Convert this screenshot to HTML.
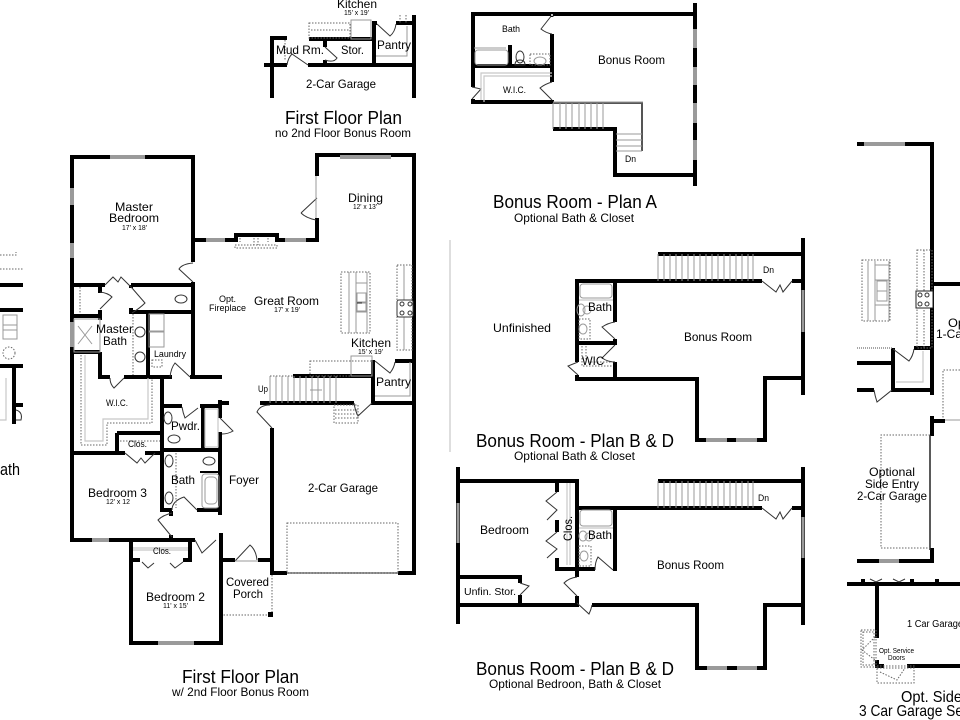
<!DOCTYPE html>
<html><head><meta charset="utf-8"><style>
html,body{margin:0;padding:0;background:#fff;width:960px;height:720px;overflow:hidden}
svg{display:block;filter:blur(0.3px)}
text{font-family:"Liberation Sans",sans-serif;fill:#000}
.w{fill:none;stroke:#000;stroke-width:4;stroke-linecap:butt;stroke-linejoin:miter}
.g{fill:none;stroke:#9a9a9a;stroke-width:4}
.d{fill:none;stroke:#333;stroke-width:1}
.l{fill:none;stroke:#999;stroke-width:1}
.o{fill:none;stroke:#666;stroke-width:1;stroke-dasharray:1.5 1.5}
.lg{fill:none;stroke:#c8c8c8;stroke-width:1.2}
</style></head><body>
<svg width="960" height="720" viewBox="0 0 960 720" xmlns="http://www.w3.org/2000/svg">

<!-- LEFT SLIVER -->
<path class="w" d="M0 285H23M0 310H23M0 366H23M14 366V424M14 405H23"/>
<path class="o" d="M0 255H16V252M0 269H23"/>
<rect x="3" y="315" width="14" height="15" class="l"/><rect x="3" y="325" width="14" height="14" class="l"/>
<circle cx="9" cy="353" r="6" class="o"/>
<path class="lg" d="M6 378V420H0"/>
<path class="d" d="M16 410Q23 412 21 420H16"/>

<!-- MAIN PLAN WALLS -->
<path class="w" d="M72 155V542M70 157H195M193 157V262M193 282V377M193 240H236V235H277V240H319M317 240V218M317 176V155H416M414 155V575"/>
<path class="w" d="M70 285H105M100 285V293M131 285H193M131 285V288M131 312H195M131 308V314M70 316H100M100 310V320M70 352H100M100 352V378M98 377H110M124 377H172M190 377H222M148 312V376M162 377V510M162 406H182M200 406H222M203 406V450M220 400V418M220 432V515M220 403H229"/>
<path class="w" d="M160 450H222M160 510H172M197 510H222M171 511V516M171 535V541M117 433H162M117 433V453M70 453H125M145 453H162"/>
<path class="w" d="M70 540H195M131 540V645M129 643H223M221 533V645M190 540V560M131 560H140M183 560H192M221 560H235M258 560H274M272 428V575M270 573H287M398 573H416"/>
<path class="w" d="M260 403H354M372 403H416M373 360V405M395 361H416M293 376H373"/>
<path d="M354 403Q355 410 358 416L372 403" class="d"/>
<!-- gray windows -->
<path class="g" d="M110 157H145M340 157H391M72 188V205M72 243V258M72 322V347M206 240H225M285 240H306"/>
<path class="g" d="M92 540H109M158 643H194"/>
<rect x="287" y="572" width="111" height="2" fill="#999"/>
<rect x="287" y="523" width="111" height="50" class="o"/>
<!-- porch -->
<path class="o" d="M272 575V615H223"/>
<rect x="268" y="612" width="5" height="5" fill="#000"/>
<!-- doors main -->
<path class="d" d="M193 263Q182 264 179 269L193 282M301 213L317 198M301 213Q306 218 316 220"/>
<path class="l" d="M316 176V218"/>
<path class="d" d="M100 292Q108 293 112 297L100 309M105 285L113 277L118 282L121 277L132 288L145 303Q140 308 132 313"/>
<path class="d" d="M110 378Q110 384 114 388L124 378"/>
<path class="d" d="M170 377Q171 368 175 363L190 377"/>
<path class="d" d="M182 407Q183 413 185 418L198 408M220 418L233 431Q228 434 222 434"/>
<path class="d" d="M125 453L137 463L141 458L145 463L155 453"/>
<path class="d" d="M172 510Q172 501 184 497L197 510M172 513Q163 515 158 520L172 537"/>
<path class="d" d="M195 540L202 553L216 540"/>
<path class="d" d="M142 562L148 568L154 563M183 562L175 568L170 563"/>
<path class="d" d="M235 561L250 545Q256 550 257 560"/>
<path class="l" d="M235 561H258"/>
<path class="d" d="M270 405Q260 405 257 412L272 428"/>
<!-- fireplace -->
<path class="o" d="M235 245H277V248H235ZM240 238V242M254 238V245M258 238V245M268 238V242"/>
<!-- toilets & fixtures -->
<ellipse cx="181" cy="299" rx="6" ry="4" class="d"/>
<rect x="149" y="314" width="15" height="17" class="l"/><rect x="149" y="332" width="15" height="15" class="l"/>
<circle cx="140" cy="332" r="5" class="d"/><circle cx="140" cy="357" r="5" class="d"/>
<path class="o" d="M133 314V375"/>
<path class="o" d="M152 360H162V367H152Z"/>
<ellipse cx="168" cy="418" rx="4" ry="6" class="d"/>
<ellipse cx="174" cy="439" rx="6" ry="4" class="d"/>
<ellipse cx="169" cy="461" rx="4" ry="6" class="d"/><ellipse cx="169" cy="498" rx="4" ry="6" class="d"/>
<path class="o" d="M176 453V508"/>
<ellipse cx="209" cy="461" rx="6" ry="4" class="d"/>
<path class="w" d="M200 472H220" style="stroke-width:2"/>
<rect x="202" y="474" width="17" height="34" rx="3" class="l"/>
<rect x="205" y="477" width="12" height="27" rx="4" class="l"/>
<rect x="205" y="409" width="13" height="38" class="lg"/>
<!-- master bath X -->
<rect x="74" y="319" width="26" height="33" class="l"/>
<path class="l" d="M78 326L92 344M92 326L78 344"/>
<path class="o" d="M80 287V314"/>
<!-- wic shelves -->
<path class="lg" d="M85 355V441H103V419H148V378"/>
<path class="o" d="M81 355V445H107V423H152V378"/>
<path class="o" d="M120 441H160"/>
<!-- Bedroom 2 closet -->
<path class="lg" d="M133 548H188M133 550H188"/>
<!-- kitchen -->
<rect x="341" y="272" width="29" height="61" class="o"/>
<path class="l" d="M349 272V333M356 272V333M367 272V333M356 283H367M356 293H367M356 311H367"/>
<rect x="357" y="293" width="9" height="9" class="l"/><rect x="357" y="303" width="9" height="9" class="l"/>
<path d="M357 303H362" stroke="#222" stroke-width="1"/>
<rect x="397" y="265" width="15" height="85" class="o"/>
<path class="l" d="M404 265V300M404 317V350"/>
<rect x="397" y="300" width="16" height="17" rx="2" fill="#fff" stroke="#333" stroke-width="1"/>
<circle cx="402" cy="304" r="2" class="d"/><circle cx="410" cy="304" r="2" class="d"/><circle cx="402" cy="313" r="2" class="d"/><circle cx="410" cy="313" r="2" class="d"/>
<path class="d" d="M375 361L390 373Q394 368 395 362"/>
<path class="l" d="M375 396H410V362"/>
<rect x="310" y="361" width="62" height="15" class="o"/>
<rect x="351" y="356" width="21" height="20" class="l"/>
<!-- stairs -->
<path class="l" d="M270 376V403M276 376V403M282 376V403M288 376V403M294 376V403M300 376V403M306 376V403M312 376V403M318 376V403M324 376V403M330 376V403M336 376V403M310 390H322"/>
<path class="o" d="M270 376H293"/>
<rect x="334" y="405" width="24" height="18" class="o"/>
<path class="o" d="M335 410H358M335 414H358M335 418H358"/>

<!-- SMALL PLAN TOP -->
<path class="w" d="M272 38V98M270 38H287M264 65H287M308 65H415M309 39H375M325 39V47M325 60V66M374 22V66M372 23H377M396 23H415M414 15V98"/>
<path class="d" d="M287 65Q288 58 292 54L308 65M325 47L337 58Q334 63 325 60M377 24L390 36Q395 32 396 24"/>
<path class="o" d="M285 40V60M400 15V23M406 15V23"/>
<rect x="309" y="23" width="41" height="15" class="o"/>
<rect x="351" y="20" width="20" height="19" class="l"/>
<path class="o" d="M311 30H350"/>
<path class="l" d="M376 56H407V26"/>

<!-- PLAN A -->
<path class="w" d="M471 14H695M695 3V186M473 14V87M473 99V104M471 102H554M552 34V82M552 14V16M473 66H552M510 45V66M553 129H617M615 129V177M613 175H697"/>
<path class="g" d="M695 29V48M695 67V85M695 103V123M695 140V160"/>
<path class="d" d="M552 15L541 29Q546 33 552 34M472 87L481 89L472 99M552 100L540 88Q545 84 552 82"/>
<circle cx="552" cy="15" r="1.5" fill="#fff" stroke="#000"/>
<path d="M553 103H642V151" fill="none" stroke="#555" stroke-width="2"/>
<path d="M553 102H643" fill="none" stroke="#999" stroke-width="1"/>
<path class="l" d="M553 103V129M560 103V129M566 103V129M572 103V129M579 103V129M585 103V129M591 103V129M597 103V129M603 103V129M616 134H642M616 140H642M616 146H642M616 151H642"/>
<rect x="475" y="50" width="33" height="15" rx="3" class="l"/>
<path class="l" d="M474 48H506"/>
<ellipse cx="520" cy="57" rx="4" ry="6" class="d"/><path class="d" d="M515 65Q515 60 520 60Q525 60 525 65Z"/>
<rect x="530" y="54" width="20" height="11" class="o"/><ellipse cx="540" cy="61" rx="6" ry="4" class="l"/>
<path class="lg" d="M484 102V76H552M481 100V73H552"/>

<!-- PLAN B & D upper -->
<path class="w" d="M803 238V395M658 254H803M575 281H762M792 281H805M577 281V362M577 375V381M575 379H699M697 379V442M695 440H767M765 378V442M763 378H803M615 282V322M615 339V345M577 343H616M615 362V379"/>
<path class="g" d="M706 440H727M736 440H757"/>
<path class="g" d="M803 290V332" style="stroke-width:3"/>
<path class="d" d="M762 281L776 292L780 285L783 292L792 281"/>
<path class="d" d="M615 322Q608 323 602 327L615 339M615 345L602 358Q608 362 615 362M578 362L568 366L578 375"/>
<path class="l" d="M658 254V281M664 254V281M670 254V281M676 254V281M682 254V281M688 254V281M694 254V281M700 254V281M706 254V281M712 254V281M718 254V281M724 254V281M730 254V281M736 254V281M742 254V281M748 254V281M753 254V281"/>
<rect x="580" y="284" width="32" height="14" rx="3" class="l"/>
<path class="lg" d="M579 300H613"/>
<ellipse cx="581" cy="310" rx="4" ry="6" class="l"/>
<circle cx="587" cy="310" r="4" class="l"/>
<rect x="579" y="319" width="11" height="20" class="o"/>
<ellipse cx="583" cy="329" rx="4" ry="5" class="l"/>
<path class="o" d="M582 346V366H613M586 346V362H613"/>
<path class="lg" d="M450 240V452"/>

<!-- PLAN B & D lower -->
<path class="w" d="M458 467V624M456 481H579M577 481V577M577 596V607M456 605H579M592 605H699M697 605V670M695 668H767M765 605V670M763 605H805M803 467V625M658 481H803M577 508H762M792 508H805M615 508V571M555 569H595M613 569H617M557 481V492M557 520V532M557 558V570M456 577H522M520 577V583M520 595V607"/>
<path class="g" d="M707 668H727M737 668H757"/>
<path class="g" d="M458 503V543M803 517V558" style="stroke-width:3"/>
<path class="d" d="M557 492L546 501L557 510L547 520M557 532L546 541L557 549L547 558"/>
<path class="d" d="M762 508L776 519L780 512L783 519L792 508M577 577Q569 578 564 583L577 596M577 603L589 614Q591 610 592 605M520 583L529 586L520 595M595 570Q595 562 598 557L613 570"/>
<path class="l" d="M658 481V508M664 481V508M670 481V508M676 481V508M682 481V508M688 481V508M694 481V508M700 481V508M706 481V508M712 481V508M718 481V508M724 481V508M730 481V508M736 481V508M742 481V508M748 481V508M753 481V508"/>
<path class="lg" d="M567 483V565M570 483V565"/>
<rect x="580" y="510" width="32" height="16" rx="3" class="l"/>
<path class="lg" d="M579 528H613"/>
<ellipse cx="583" cy="536" rx="4" ry="5" class="l"/><circle cx="589" cy="537" r="4" class="l"/>
<rect x="579" y="546" width="12" height="20" class="o"/>
<ellipse cx="584" cy="556" rx="4" ry="5" class="l"/>

<!-- RIGHT PLAN -->
<path class="w" d="M857 144H934M932 144V395M932 284H960M914 348H933M893 348V392M857 363H893M857 390H874M892 390H932"/>
<path class="g" d="M864 144H905"/>
<path d="M857 348H892" stroke="#888" stroke-width="1.5" stroke-dasharray="1 1" fill="none"/>
<path class="d" d="M893 349L909 361Q913 356 914 349M874 390Q875 396 877 402L892 390"/>
<path class="lg" d="M896 382H923V351"/>
<rect x="862" y="260" width="28" height="61" class="o"/>
<path class="l" d="M868 261V321M875 261V321M889 261V321M875 265H889M875 280H889M875 305H889"/>
<rect x="877" y="281" width="10" height="10" class="l"/><rect x="877" y="291" width="10" height="10" class="l"/>
<rect x="917" y="250" width="15" height="98" class="o"/>
<path class="o" d="M924 250V348"/>
<rect x="916" y="291" width="17" height="17" fill="#fff" stroke="#222" stroke-width="1"/>
<circle cx="920" cy="295" r="2" class="d"/><circle cx="927" cy="295" r="2" class="d"/><circle cx="920" cy="304" r="2" class="d"/><circle cx="927" cy="304" r="2" class="d"/>
<path class="w" d="M932 416V436M932 421H945M932 548V563M857 561H934"/>
<path class="g" d="M879 561H899"/>
<path d="M930 435V550" fill="none" stroke="#222" stroke-width="1.5"/>
<path class="o" d="M930 435H881V548H930"/>
<path class="o" d="M960 370H943V418"/>
<path class="l" d="M945 420H960"/>
<path class="w" d="M847 584H960M877 584V638M863 579V584M912 579V584M937 579V584M876 666H884M907 666H960M877 660V668"/>
<path class="d" d="M870 579L876 582L882 579M893 579L899 582L905 579"/>
<rect x="861" y="630" width="15" height="37" class="o"/>
<rect x="863" y="632" width="11" height="33" class="o"/>
<rect x="877" y="668" width="37" height="15" class="o"/>
<path class="o" d="M877 666H916M880 672L897 680L905 668M875 637L862 650L875 660"/>

<!-- TEXT main plan -->
<text x="115" y="211" font-size="12" textLength="38" lengthAdjust="spacingAndGlyphs">Master</text>
<text x="109" y="222" font-size="12" textLength="50" lengthAdjust="spacingAndGlyphs">Bedroom</text>
<text x="122" y="230" font-size="7" textLength="25" lengthAdjust="spacingAndGlyphs">17' x 18'</text>
<text x="348" y="202" font-size="12" textLength="35" lengthAdjust="spacingAndGlyphs">Dining</text>
<text x="353" y="209" font-size="7" textLength="24" lengthAdjust="spacingAndGlyphs">12' x 13'</text>
<text x="219" y="302" font-size="9" textLength="17" lengthAdjust="spacingAndGlyphs">Opt.</text>
<text x="209" y="311" font-size="9" textLength="37" lengthAdjust="spacingAndGlyphs">Fireplace</text>
<text x="254" y="305" font-size="12" textLength="65" lengthAdjust="spacingAndGlyphs">Great Room</text>
<text x="274" y="312" font-size="7" textLength="26" lengthAdjust="spacingAndGlyphs">17' x 19'</text>
<text x="351" y="347" font-size="12" textLength="40" lengthAdjust="spacingAndGlyphs">Kitchen</text>
<text x="358" y="354" font-size="7" textLength="25" lengthAdjust="spacingAndGlyphs">15' x 19'</text>
<text x="96" y="333" font-size="12" textLength="37" lengthAdjust="spacingAndGlyphs">Master</text>
<text x="103" y="345" font-size="12" textLength="24" lengthAdjust="spacingAndGlyphs">Bath</text>
<text x="154" y="357" font-size="9" textLength="32" lengthAdjust="spacingAndGlyphs">Laundry</text>
<text x="106" y="406" font-size="9" textLength="22" lengthAdjust="spacingAndGlyphs">W.I.C.</text>
<text x="258" y="392" font-size="9" textLength="10" lengthAdjust="spacingAndGlyphs">Up</text>
<text x="376" y="386" font-size="12" textLength="35" lengthAdjust="spacingAndGlyphs">Pantry</text>
<text x="171" y="430" font-size="12" textLength="29" lengthAdjust="spacingAndGlyphs">Pwdr.</text>
<text x="128" y="447" font-size="9" textLength="19" lengthAdjust="spacingAndGlyphs">Clos.</text>
<text x="171" y="484" font-size="12" textLength="24" lengthAdjust="spacingAndGlyphs">Bath</text>
<text x="229" y="484" font-size="12" textLength="30" lengthAdjust="spacingAndGlyphs">Foyer</text>
<text x="88" y="497" font-size="12" textLength="59" lengthAdjust="spacingAndGlyphs">Bedroom 3</text>
<text x="106" y="504" font-size="7" textLength="24" lengthAdjust="spacingAndGlyphs">12' x 12</text>
<text x="308" y="492" font-size="12" textLength="70" lengthAdjust="spacingAndGlyphs">2-Car Garage</text>
<text x="153" y="554" font-size="9" textLength="18" lengthAdjust="spacingAndGlyphs">Clos.</text>
<text x="226" y="586" font-size="12" textLength="43" lengthAdjust="spacingAndGlyphs">Covered</text>
<text x="233" y="598" font-size="12" textLength="30" lengthAdjust="spacingAndGlyphs">Porch</text>
<text x="146" y="601" font-size="12" textLength="59" lengthAdjust="spacingAndGlyphs">Bedroom 2</text>
<text x="163" y="608" font-size="7" textLength="25" lengthAdjust="spacingAndGlyphs">11' x 15'</text>
<text x="182" y="683" font-size="18" textLength="117" lengthAdjust="spacingAndGlyphs">First Floor Plan</text>
<text x="172" y="696" font-size="12" textLength="137" lengthAdjust="spacingAndGlyphs">w/ 2nd Floor Bonus Room</text>

<!-- TEXT small -->
<text x="337" y="8" font-size="12" textLength="40" lengthAdjust="spacingAndGlyphs">Kitchen</text>
<text x="344" y="15" font-size="7" textLength="25" lengthAdjust="spacingAndGlyphs">15' x 19'</text>
<text x="276" y="54" font-size="12" textLength="48" lengthAdjust="spacingAndGlyphs">Mud Rm.</text>
<text x="341" y="54" font-size="12" textLength="23" lengthAdjust="spacingAndGlyphs">Stor.</text>
<text x="377" y="49" font-size="12" textLength="34" lengthAdjust="spacingAndGlyphs">Pantry</text>
<text x="306" y="88" font-size="12" textLength="70" lengthAdjust="spacingAndGlyphs">2-Car Garage</text>
<text x="285" y="124" font-size="18" textLength="117" lengthAdjust="spacingAndGlyphs">First Floor Plan</text>
<text x="275" y="137" font-size="12" textLength="136" lengthAdjust="spacingAndGlyphs">no 2nd Floor Bonus Room</text>

<!-- TEXT A -->
<text x="502" y="32" font-size="9.5" textLength="18" lengthAdjust="spacingAndGlyphs">Bath</text>
<text x="598" y="64" font-size="12" textLength="67" lengthAdjust="spacingAndGlyphs">Bonus Room</text>
<text x="503" y="93" font-size="9" textLength="23" lengthAdjust="spacingAndGlyphs">W.I.C.</text>
<text x="625" y="162" font-size="9" textLength="11" lengthAdjust="spacingAndGlyphs">Dn</text>
<text x="493" y="208" font-size="18" textLength="164" lengthAdjust="spacingAndGlyphs">Bonus Room - Plan A</text>
<text x="514" y="222" font-size="12" textLength="120" lengthAdjust="spacingAndGlyphs">Optional Bath &amp; Closet</text>

<!-- TEXT B -->
<text x="493" y="332" font-size="12" textLength="58" lengthAdjust="spacingAndGlyphs">Unfinished</text>
<text x="588" y="311" font-size="12" textLength="24" lengthAdjust="spacingAndGlyphs">Bath</text>
<text x="582" y="365" font-size="12" textLength="22" lengthAdjust="spacingAndGlyphs">WIC</text>
<text x="684" y="341" font-size="12" textLength="68" lengthAdjust="spacingAndGlyphs">Bonus Room</text>
<text x="763" y="273" font-size="9" textLength="11" lengthAdjust="spacingAndGlyphs">Dn</text>
<text x="476" y="447" font-size="18" textLength="198" lengthAdjust="spacingAndGlyphs">Bonus Room - Plan B &amp; D</text>
<text x="514" y="460" font-size="12" textLength="121" lengthAdjust="spacingAndGlyphs">Optional Bath &amp; Closet</text>

<!-- TEXT C -->
<text x="480" y="534" font-size="12" textLength="49" lengthAdjust="spacingAndGlyphs">Bedroom</text>
<text transform="translate(572,541) rotate(-90)" font-size="12" textLength="25" lengthAdjust="spacingAndGlyphs">Clos.</text>
<text x="588" y="539" font-size="12" textLength="24" lengthAdjust="spacingAndGlyphs">Bath</text>
<text x="657" y="569" font-size="12" textLength="67" lengthAdjust="spacingAndGlyphs">Bonus Room</text>
<text x="464" y="595" font-size="10" textLength="52" lengthAdjust="spacingAndGlyphs">Unfin. Stor.</text>
<text x="758" y="501" font-size="9" textLength="11" lengthAdjust="spacingAndGlyphs">Dn</text>
<text x="476" y="675" font-size="18" textLength="198" lengthAdjust="spacingAndGlyphs">Bonus Room - Plan B &amp; D</text>
<text x="489" y="688" font-size="12" textLength="172" lengthAdjust="spacingAndGlyphs">Optional Bedroon, Bath &amp; Closet</text>

<!-- TEXT right -->
<text x="948" y="327" font-size="12" textLength="17" lengthAdjust="spacingAndGlyphs">Op</text>
<text x="936" y="338" font-size="12" textLength="26" lengthAdjust="spacingAndGlyphs">1-Ca</text>
<text x="869" y="476" font-size="12" textLength="46" lengthAdjust="spacingAndGlyphs">Optional</text>
<text x="865" y="488" font-size="12" textLength="54" lengthAdjust="spacingAndGlyphs">Side Entry</text>
<text x="857" y="500" font-size="12" textLength="70" lengthAdjust="spacingAndGlyphs">2-Car Garage</text>
<text x="907" y="627" font-size="10" textLength="56" lengthAdjust="spacingAndGlyphs">1 Car Garage</text>
<text x="879" y="653" font-size="7" textLength="35" lengthAdjust="spacingAndGlyphs">Opt. Service</text>
<text x="888" y="660" font-size="7" textLength="17" lengthAdjust="spacingAndGlyphs">Doors</text>
<text x="901" y="702" font-size="16" textLength="61" lengthAdjust="spacingAndGlyphs">Opt. Side</text>
<text x="859" y="716" font-size="16" textLength="104" lengthAdjust="spacingAndGlyphs">3 Car Garage Se</text>
<text x="0" y="475" font-size="17" textLength="20" lengthAdjust="spacingAndGlyphs">ath</text>
</svg>
</body></html>
